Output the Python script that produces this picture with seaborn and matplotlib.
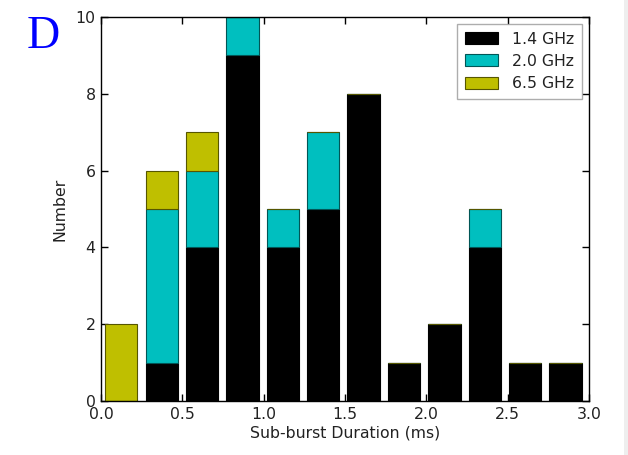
import numpy as np
import pandas as pd
import matplotlib
matplotlib.use("Agg")
import matplotlib.pyplot as plt
import matplotlib.colors as mcolors
from matplotlib.patches import Patch, Rectangle
import seaborn as sns

# ---- data ----
bands = ["1.4 GHz", "2.0 GHz", "6.5 GHz"]
bin_edges = list(np.linspace(0.0, 2.98, 13))
counts_14 = [0, 1, 4, 9, 4, 5, 8, 1, 2, 4, 1, 1]
counts_20 = [0, 4, 2, 1, 1, 2, 0, 0, 0, 1, 0, 0]
counts_65 = [2, 1, 1, 0, 0, 0, 0, 0, 0, 0, 0, 0]
colors = {"1.4 GHz": "#000000", "2.0 GHz": "#00bfbf", "6.5 GHz": "#bfbf00"}
xticks = [0.0, 0.5, 1.0, 1.5, 2.0, 2.5, 3.0]
yticks = [0, 2, 4, 6, 8, 10]

centers = [(bin_edges[i] + bin_edges[i + 1]) / 2 for i in range(len(bin_edges) - 1)]
rows = []
for band, cnts in zip(bands, [counts_14, counts_20, counts_65]):
    for c, n in zip(centers, cnts):
        rows.append({"duration": c, "count": n, "band": band})
df = pd.DataFrame(rows)

sns.set_style("ticks")
FS = 11.3
plt.rcParams.update({
    "font.family": ["DejaVu Sans"],
    "xtick.direction": "in", "ytick.direction": "in",
    "xtick.top": True, "ytick.right": True,
    "xtick.major.size": 5, "ytick.major.size": 5,
    "axes.edgecolor": "black", "axes.linewidth": 1.0,
    "xtick.color": "black", "ytick.color": "black",
    "text.color": "#222222", "axes.labelcolor": "#222222",
    "xtick.labelcolor": "#222222", "ytick.labelcolor": "#222222",
    "font.size": FS,
})

fig = plt.figure(figsize=(6.28, 4.55), dpi=100)
ax = fig.add_axes([0.161, 0.1187, 0.777, 0.844])

sns.histplot(data=df, x="duration", weights="count", hue="band",
             hue_order=bands[::-1], multiple="stack", bins=bin_edges,
             shrink=0.8, palette=colors, alpha=1.0, linewidth=0.8,
             legend=False, ax=ax)

for p in ax.patches:
    fc = np.array(mcolors.to_rgb(p.get_facecolor()))
    p.set_edgecolor(tuple(fc * 0.45))

ax.set_xlim(0, 3.0)
ax.set_ylim(0, 10)
ax.set_xticks(xticks)
ax.set_xticklabels([f"{t:.1f}" for t in xticks])
ax.set_yticks(yticks)
ax.set_xlabel("Sub-burst Duration (ms)", fontsize=FS, labelpad=3)
ax.set_ylabel("Number", fontsize=FS, labelpad=6)
ax.tick_params(labelsize=FS, width=1, pad=4)

handles = [Patch(facecolor=colors[b], edgecolor=tuple(np.array(mcolors.to_rgb(colors[b])) * 0.45),
                 linewidth=0.8, label=b) for b in bands]
leg = ax.legend(handles=handles, loc="upper right", fontsize=FS, frameon=True,
                fancybox=False, edgecolor="#999999", handlelength=2.1,
                handleheight=0.8, labelspacing=0.45, handletextpad=0.9,
                borderaxespad=0.45, borderpad=0.5)
leg.get_frame().set_linewidth(1.0)

fig.text(0.043, 0.92, "D", color="#0000ff", fontsize=33,
         family=["Liberation Serif"], ha="left", va="center")
fig.patches.append(Rectangle((0.994, 0), 0.006, 1, transform=fig.transFigure,
                             facecolor="#eeeeee", edgecolor="none", zorder=-1))

fig.savefig("out.png", dpi=100)
